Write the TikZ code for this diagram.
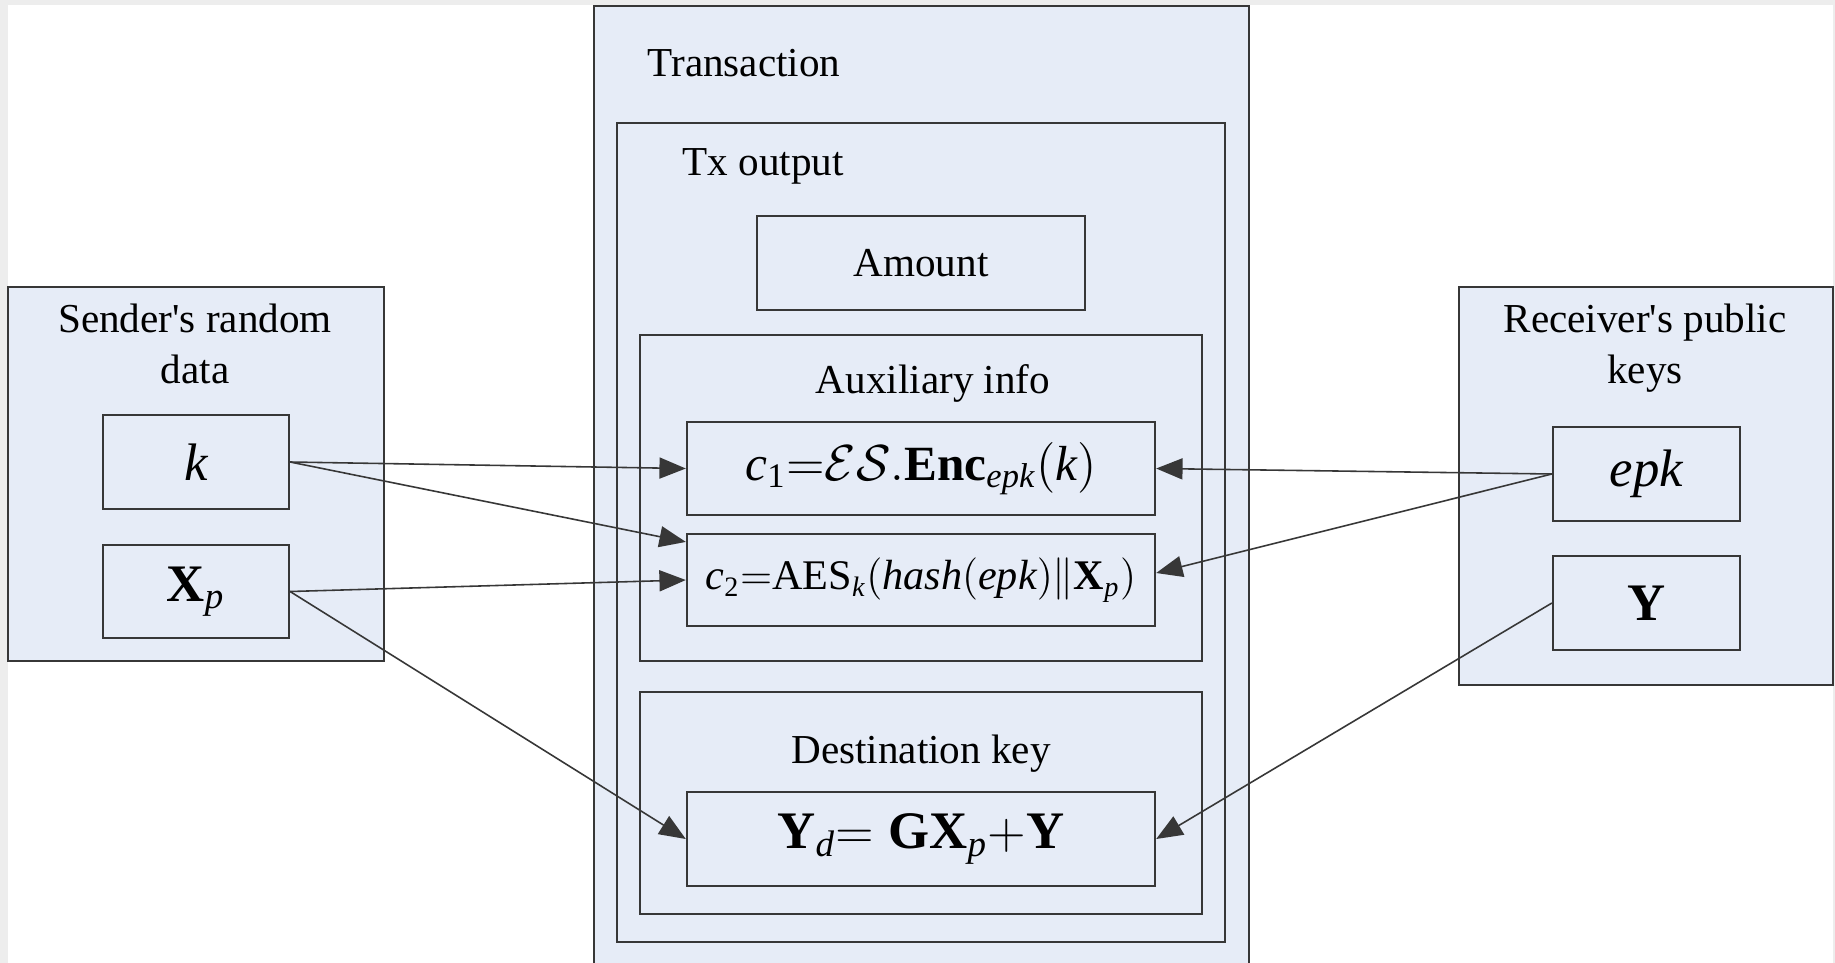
\documentclass[tikz,border=0pt]{standalone}
\usepackage{amsmath}
\usepackage{fontspec}
\setmainfont{Liberation Serif}
\usetikzlibrary{arrows.meta, positioning}
\definecolor{panelfill}{RGB}{230,236,247}
\definecolor{edgegray}{RGB}{55,55,55}
\newcommand{\vi}[1]{\text{\itshape #1}}
\newcommand{\vb}[1]{\text{\bfseries #1}}
\tikzset{
    panel/.style={draw=edgegray, line width=0.6pt, fill=panelfill, inner sep=0pt},
    box/.style={draw=edgegray, line width=0.6pt, fill=panelfill, align=center, inner sep=0pt},
    title/.style={font=\fontsize{11.7}{14.5}\selectfont, align=center, inner sep=0pt},
    arrow/.style={-{Triangle[length=7.5pt,width=6pt]}, line width=0.45pt, edgegray}
}

\begin{document}
\begin{tikzpicture}[x=0.01cm, y=-0.01cm]
        \useasboundingbox (0,0) rectangle (1835,963);
        \fill[black!7] (0,0) rectangle (1835,963);
        \fill[white] (8,5) rectangle (1833,963);
        % middle: transaction
        \node [panel, minimum width=6.55cm, minimum height=9.69cm] (transaction) at (921.5,490.5) {};
        \node [title, anchor=west] (translabel) at (647,63) {Transaction};
        \node [panel, minimum width=6.08cm, minimum height=8.19cm] (txout) at (921,532.5) {};
        \node [title, anchor=west] (txlabel) at (682,166) {Tx output};
        \node [box, title, minimum width=3.28cm, minimum height=0.94cm] (amount) at (921,263) {Amount};
        \node [panel, minimum width=5.62cm, minimum height=3.26cm] (aux) at (921,498) {};
        \node [title] (auxlabel) at (933,383) {Auxiliary info};
        \node [box, minimum width=4.68cm, minimum height=0.93cm, font=\fontsize{14}{16}\selectfont] (c1) at (921,468.5)
            {$\vi{c}_{\text{1}}{=}\mathcal{E}\mathcal{S}.\vb{Enc}_{\vi{epk}}(\vi{k})$};
        \node [box, minimum width=4.68cm, minimum height=0.92cm, font=\fontsize{12}{14}\selectfont] (c2) at (921,580)
            {$\vi{c}_{\text{2}}{=}\text{AES}_{\vi{k}}(\vi{hash}(\vi{epk})\|\vb{X}_{\vi{p}})$};
        \node [panel, minimum width=5.62cm, minimum height=2.22cm] (dest) at (921,803) {};
        \node [title] (destlabel) at (921,754) {Destination key};
        \node [box, minimum width=4.68cm, minimum height=0.94cm, font=\fontsize{15}{17}\selectfont] (yd) at (921,839)
            {$\vb{Y}_{\vi{d}}{=}\;\vb{GX}_{\vi{p}}{+}\vb{Y}$};
        % left: sender
        \node [panel, minimum width=3.76cm, minimum height=3.74cm] (sender) at (196,474) {};
        \node [title] (senderlabel) at (195,344) {Sender\textquotesingle s random\\data};
        \node [box, minimum width=1.86cm, minimum height=0.94cm, font=\fontsize{15}{17}\selectfont] (k) at (196,462) {$\vi{k}$};
        \node [box, minimum width=1.86cm, minimum height=0.93cm, font=\fontsize{15}{17}\selectfont] (xp) at (196,591.5) {$\vb{X}_{\vi{p}}$};
        % right: receiver
        \node [panel, minimum width=3.74cm, minimum height=3.98cm] (receiver) at (1646,486) {};
        \node [title] (receiverlabel) at (1645,348) {Receiver\textquotesingle s public\\keys};
        \node [box, minimum width=1.87cm, minimum height=0.94cm, font=\fontsize{15}{17}\selectfont] (epk) at (1646.5,474) {$\vi{epk}$};
        \node [box, minimum width=1.87cm, minimum height=0.94cm, font=\fontsize{15}{17}\selectfont] (ykey) at (1646.5,603) {$\vb{Y}$};
        \draw [arrow] (k.east) -- (c1.west);
        \draw [arrow] (k.east) -- ([yshift=-0.09cm]c2.north west);
        \draw [arrow] (xp.east) -- (c2.west);
        \draw [arrow] (xp.east) -- (yd.west);
        \draw [arrow] (epk.west) -- (c1.east);
        \draw [arrow] (epk.west) -- ([yshift=0.07cm]c2.east);
        \draw [arrow] (ykey.west) -- (yd.east);
    \end{tikzpicture}
\end{document}
